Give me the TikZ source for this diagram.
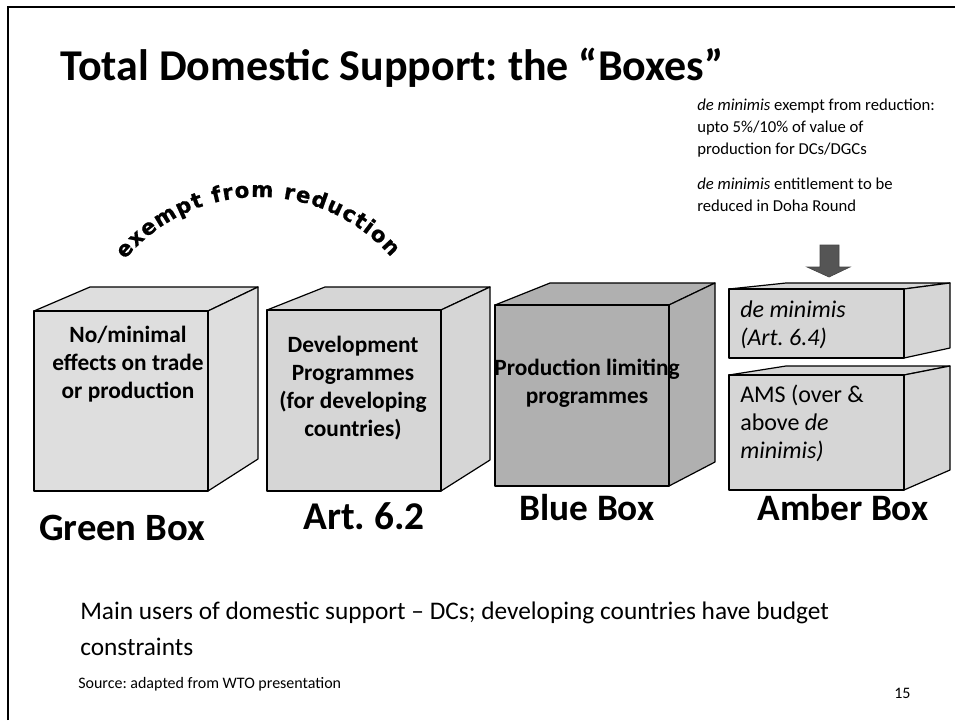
\documentclass[tikz,border=0pt]{standalone}
\usepackage{fontspec}
\setmainfont{Carlito}
\newfontfamily\arcfont{DejaVu Sans}[BoldFeatures={FakeBold=0.8}]
\usetikzlibrary{decorations.text}
\frenchspacing

\definecolor{greenface}{HTML}{DEDEDE}
\definecolor{artface}{HTML}{D6D6D6}
\definecolor{blueface}{HTML}{B0B0B0}
\definecolor{amberface}{HTML}{D6D6D6}
\definecolor{arrowgray}{HTML}{555555}

\tikzset{
  face/.style={draw=black, line width=0.9pt, line join=round},
  boxtxt/.style={font=\bfseries\fontsize{17.5}{21}\selectfont, align=center, anchor=base, inner sep=0pt},
  lbl/.style={font=\bfseries\fontsize{28}{32}\selectfont, anchor=base, inner sep=0pt},
  ambtxt/.style={font=\fontsize{18}{21}\selectfont, align=left, anchor=base west, inner sep=0pt},
  note/.style={font=\fontsize{12.5}{16.5}\selectfont, align=left, anchor=base west, inner sep=0pt},
  body/.style={font=\fontsize{19}{27}\selectfont, align=left, anchor=base west, inner sep=0pt},
  small/.style={font=\fontsize{12}{14}\selectfont, anchor=base west, inner sep=0pt},
}

% cube: fill, front x1,y1,x2,y2, back-left x, back-top y, back-right x, back-bottom y
\newcommand\cubeshape[9]{%
  \filldraw[face, fill=#1] (#2,#3) -- (#6,#7) -- (#8,#7) -- (#4,#3) -- cycle;
  \filldraw[face, fill=#1] (#4,#3) -- (#8,#7) -- (#8,#9) -- (#4,#5) -- cycle;
  \filldraw[face, fill=#1] (#2,#3) rectangle (#4,#5);
}

\begin{document}
\begin{tikzpicture}[x=0.75pt, y=-0.75pt]
\useasboundingbox (0,0) rectangle (955,720);

% slide frame
\draw[line width=2.2pt] (8,720) -- (8,7) -- (955,7);

% title
\node[font=\bfseries\fontsize{33}{40}\selectfont, anchor=base west, inner sep=0pt] (title) at (60,81)
  {Total Domestic Support: the “Boxes”};

% notes on de minimis (anchored at the baseline of the last line)
\node[note] (note1) at (697,155)
  {\textit{de minimis} exempt from reduction:\\upto 5\%/10\% of value of\\production for DCs/DGCs};
\node[note] (note2) at (697,211)
  {\textit{de minimis} entitlement to be\\reduced in Doha Round};

% curved caption
\path[decorate, decoration={text along path, text align=fit to path,
      text={|\arcfont\bfseries\fontsize{16}{16}\selectfont|exempt from reduction}}]
  (259,372) ++(-140:175) arc[start angle=-140, end angle=-41, radius=175];

% the boxes
\cubeshape{greenface}{34}{311}{208}{491}{90}{287}{258}{459}
\cubeshape{artface}{267}{310}{441}{491}{325}{287}{490}{460}
\cubeshape{blueface}{495}{305}{669}{486}{550}{283}{715}{462}
\cubeshape{amberface}{729}{289}{904}{358}{786}{283}{950}{348}
\cubeshape{amberface}{729}{375}{904}{490}{786}{366}{950}{470}

% box contents (anchored at the baseline of the last line)
\node[boxtxt] (green) at (128,398) {No/minimal\\effects on trade\\or production};
\node[boxtxt] (art) at (353,436) {Development\\Programmes\\(for developing\\countries)};
\node[boxtxt] (blue) at (587,403) {Production limiting\\programmes};
\node[ambtxt] (demin) at (740,345) {\textit{de minimis}\\\textit{(Art. 6.4)}};
\node[ambtxt] (ams) at (740,458) {AMS (over \&\\above \textit{de}\\\textit{minimis)}};

% arrow onto the amber box
\filldraw[fill=arrowgray, draw=arrowgray!80!black, line width=0.5pt]
  (820,245) -- (839,245) -- (839,267) -- (850,267) -- (829,277)
  -- (807,267) -- (820,267) -- cycle;

% box labels
\node[lbl, font=\bfseries\fontsize{29}{32}\selectfont] (lgreen) at (122,540) {Green Box};
\node[lbl, font=\bfseries\fontsize{29.5}{32}\selectfont] (lart) at (364,529) {Art. 6.2};
\node[lbl] (lblue) at (587,520) {Blue Box};
\node[lbl] (lamber) at (843,520) {Amber Box};

% body text
\node[body] (mainnote) at (80,655)
  {Main users of domestic support – DCs; developing countries have budget\\constraints};
\node[small] (source) at (78,688) {Source: adapted from WTO presentation};
\node[small] (pageno) at (894,698) {15};
\end{tikzpicture}
\end{document}
